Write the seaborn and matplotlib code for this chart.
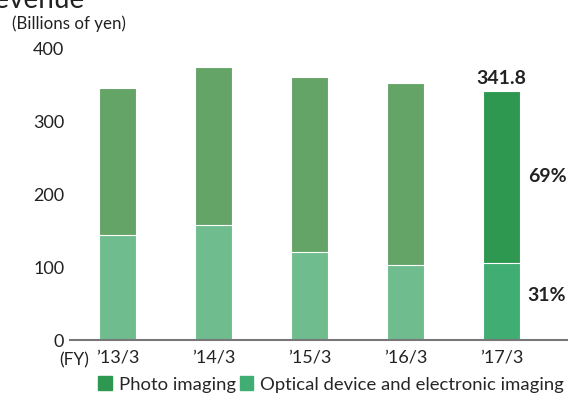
import matplotlib
matplotlib.use("Agg")
import matplotlib.pyplot as plt
import seaborn as sns
import pandas as pd
from matplotlib.patches import Patch

years = ["\u201913/3", "\u201914/3", "\u201915/3", "\u201916/3", "\u201917/3"]
total = [345.5, 374.0, 360.0, 352.0, 341.8]
optical = [144.0, 158.0, 120.6, 103.0, 105.0]
share_labels = ["69%", "31%"]
yticks = [0, 100, 200, 300, 400]

top_colors = ["#65a467", "#65a467", "#65a467", "#65a467", "#2e9850"]
bottom_colors = ["#6fbd8e", "#6fbd8e", "#6fbd8e", "#6fbd8e", "#40ae72"]

df = pd.DataFrame({"year": years, "total": total, "optical": optical})

sns.set_theme(style="white")
plt.rcParams["font.family"] = ["Lato", "DejaVu Sans"]

fig = plt.figure(figsize=(5.68, 3.94), dpi=100)
ax = fig.add_axes([0.123, 0.137, 0.877, 0.741])

# full bar first (photo imaging on top), optical segment drawn over it
sns.barplot(data=df, x="year", y="total", hue="year", palette=top_colors,
            saturation=1, legend=False, width=0.385, edgecolor="white",
            linewidth=0.8, ax=ax)
sns.barplot(data=df, x="year", y="optical", hue="year", palette=bottom_colors,
            saturation=1, legend=False, width=0.385, edgecolor="white",
            linewidth=0.8, ax=ax)

ax.set_xlim(-0.495, 4.69)
ax.set_ylim(0, 400)
ax.set_yticks(yticks)
ax.set_xlabel("")
ax.set_ylabel("")
ax.tick_params(axis="both", length=0, labelsize=13, colors="#222222")
ax.tick_params(axis="y", pad=4)
ax.tick_params(axis="x", pad=7)
for s in ["top", "right", "left"]:
    ax.spines[s].set_visible(False)
ax.spines["bottom"].set_color("#777777")
ax.spines["bottom"].set_linewidth(1.5)

last = len(years) - 1
ax.text(last, total[last] + 5, f"{total[last]}", ha="center", va="bottom",
        fontsize=14, fontweight="bold", color="#222222")
ax.text(last + 0.27, (total[last] + optical[last]) / 2, share_labels[0],
        ha="left", va="center", fontsize=14, fontweight="bold", color="#222222")
ax.text(last + 0.27, optical[last] / 2 + 8, share_labels[1],
        ha="left", va="center", fontsize=14, fontweight="bold", color="#222222")

fig.text(0.022, 0.94, "(Billions of yen)", fontsize=12.2, color="#222222",
         ha="left", va="center")
fig.text(0.105, 0.085, "(FY)", fontsize=12.5, color="#222222",
         ha="left", va="center")
fig.text(-0.04, 1.0, "Revenue", fontsize=20, color="#222222",
         ha="left", va="center")

handles = [Patch(color=top_colors[-1], label="Photo imaging"),
           Patch(color=bottom_colors[-1], label="Optical device and electronic imaging")]
fig.legend(handles=handles, loc="center", bbox_to_anchor=(0.583, 0.024),
           ncol=2, frameon=False, fontsize=13.3, handlelength=0.75,
           handleheight=0.75, handletextpad=0.35, columnspacing=0.2,
           borderpad=0.1)

fig.savefig("out.png", dpi=100)
